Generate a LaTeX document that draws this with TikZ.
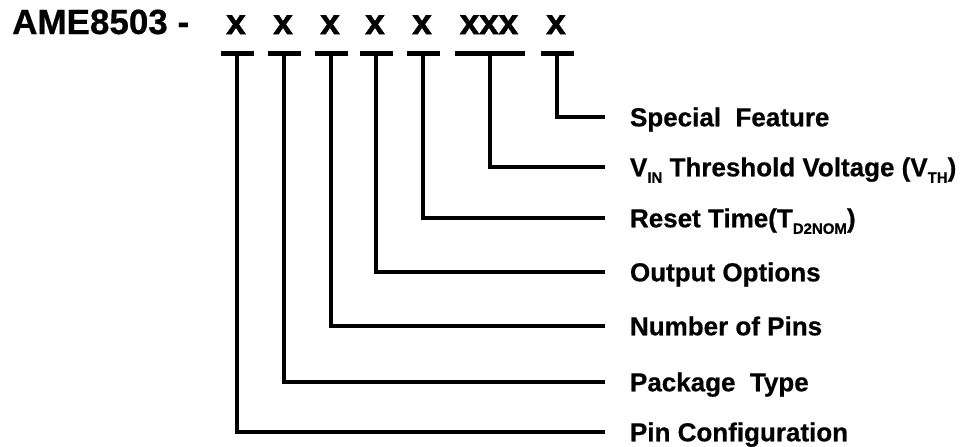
\documentclass[tikz,border=0pt]{standalone}
\usepackage{fontspec}
\setmainfont{Liberation Sans}[BoldFeatures={FakeBold=0.6}]
\newfontfamily\heavyfont{Liberation Sans Bold}[FakeBold=1.6]
\usetikzlibrary{positioning}
\newcommand{\lowsub}[1]{\raisebox{-6.5pt}{\fontsize{15}{15}\selectfont #1}}

\begin{document}
\begin{tikzpicture}[
  x=1pt, y=-1pt,
  code/.style={font=\fontsize{35}{40}\selectfont\bfseries, inner sep=0, anchor=base},
  digit/.style={font=\fontsize{35}{40}\selectfont\heavyfont, inner sep=0, anchor=base},
  bar/.style={rectangle, fill, inner sep=0, minimum width=33pt, minimum height=5pt},
  field/.style={font=\fontsize{26}{30}\selectfont\bfseries, anchor=west, inner sep=0, outer xsep=25pt, text height=18.6pt, text depth=0pt},
  lead/.style={line width=4pt}
  ]
\useasboundingbox (0,0) rectangle (969,447);

\node[code, anchor=base west] (part) at (12,34) {AME8503 -};
\node[digit] (pin)  at (236,34) {x};
\node[digit] (pkg)  at (283,34) {x};
\node[digit] (num)  at (330,34) {x};
\node[digit] (out)  at (375,34) {x};
\node[digit] (rst)  at (422,34) {x};
\node[digit] (vth)  at (489,34) {xxx};
\node[digit] (spec) at (556,34) {x};

\node[bar] (pinbar)  at (237,53) {};
\node[bar] (pkgbar)  at (284,53) {};
\node[bar] (numbar)  at (331,53) {};
\node[bar] (outbar)  at (376,53) {};
\node[bar] (rstbar)  at (423,53) {};
\node[bar, minimum width=70pt] (vthbar) at (490,53) {};
\node[bar] (specbar) at (557,53) {};

\node[field] (specfield) at (605,117) {Special\ \ Feature};
\node[field] (vthfield)  at (605,167) {V\lowsub{IN} Threshold Voltage (V\lowsub{TH})};
\node[field] (rstfield)  at (605,218) {Reset Time(T\lowsub{D2NOM})};
\node[field] (outfield)  at (605,272) {Output Options};
\node[field] (numfield)  at (605,326) {Number of Pins};
\node[field] (pkgfield)  at (605,382) {Package\ \ Type};
\node[field] (pinfield)  at (605,432) {Pin Configuration};

\draw[lead] (specbar) |- (specfield.west);
\draw[lead] (vthbar) |- (vthfield.west);
\draw[lead] (rstbar) |- (rstfield.west);
\draw[lead] (outbar) |- (outfield.west);
\draw[lead] (numbar) |- (numfield.west);
\draw[lead] (pkgbar) |- (pkgfield.west);
\draw[lead] (pinbar) |- (pinfield.west);

\end{tikzpicture}
\end{document}
